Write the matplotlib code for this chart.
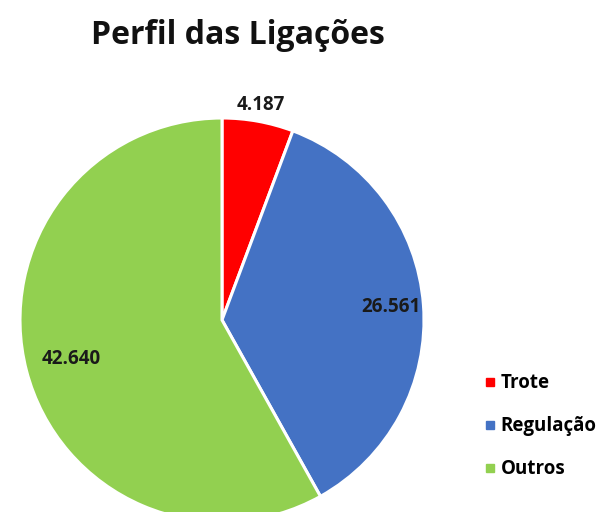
import numpy as np
import matplotlib
matplotlib.use("Agg")
import matplotlib.pyplot as plt
from matplotlib.lines import Line2D

categories = ["Trote", "Regulação", "Outros"]
values = [4187, 26561, 42640]
value_labels = ["4.187", "26.561", "42.640"]
colors = ["#FF0000", "#4472C4", "#92D050"]
label_dist = [1.08, 0.84, 0.77]

fig = plt.figure(figsize=(6.12, 5.12), dpi=100)
W, H = 612, 512
cx, cy, R = 222, 320, 202
ax = fig.add_axes([(cx - R) / W, (H - cy - R) / H, 2 * R / W, 2 * R / H])
wedges, _ = ax.pie(values, colors=colors, startangle=90, counterclock=False,
                   radius=1, wedgeprops=dict(edgecolor="white", linewidth=2.2))
for w in wedges:
    w.set_clip_on(False)
ax.set_xlim(-1, 1)
ax.set_ylim(-1, 1)

for w, lab, d in zip(wedges, value_labels, label_dist):
    mid = np.deg2rad((w.theta1 + w.theta2) / 2)
    ax.text(d * np.cos(mid), d * np.sin(mid), lab, ha="center", va="center",
            fontsize=13.5, fontweight="bold", family="Open Sans", color="#1a1a1a")

fig.text(238 / W, 1 - 36 / H, "Perfil das Ligações", ha="center", va="center",
         fontsize=23, fontweight="bold", family="Open Sans", color="#111111")

handles = [Line2D([], [], marker="s", linestyle="none", markersize=6,
                  markerfacecolor=c, markeredgecolor=c) for c in colors]
leg = fig.legend(handles, categories, loc="upper left",
                 bbox_to_anchor=(478 / W, 1 - 366 / H), frameon=False,
                 prop=dict(family="Open Sans", weight="bold", size=13.5),
                 handlelength=0.5, handletextpad=0.3, labelspacing=1.22,
                 borderaxespad=0)
fig.savefig("out.png", dpi=100)
